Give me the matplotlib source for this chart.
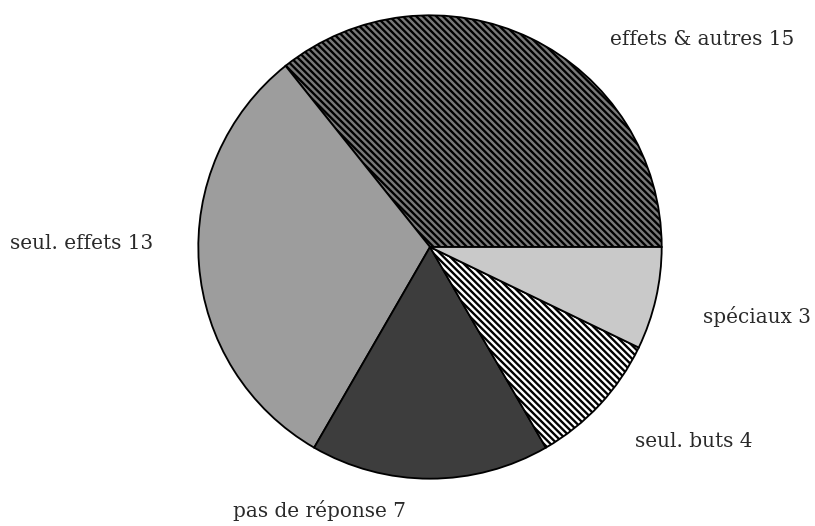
import matplotlib.pyplot as plt

categories = ["effets & autres", "seul. effets", "pas de réponse", "seul. buts", "spéciaux"]
values = [15, 13, 7, 4, 3]

# slice styles (same order as categories)
colors = ["#7a7a7a", "#9d9d9d", "#3d3d3d", "#ffffff", "#c9c9c9"]
hatches = ["\\" * 6, "", "", "\\" * 6, ""]

# label anchor (pixels, left edge / baseline)
label_px = {
    "effets & autres": (610, 45),
    "seul. effets": (10, 249),
    "pas de réponse": (233, 517),
    "seul. buts": (635, 447),
    "spéciaux": (703, 323),
}

W, H, DPI = 815, 526, 120
plt.rcParams['hatch.linewidth'] = 1.4
plt.rcParams['hatch.color'] = 'black'

fig = plt.figure(figsize=(W / DPI, H / DPI), dpi=DPI)
cx, cy, r = 430, 247, 234
ax = fig.add_axes([(cx - r) / W, (H - cy - r) / H, 2 * r / W, 2 * r / H])

wedges, _ = ax.pie(values, startangle=0, counterclock=True, colors=colors,
                   hatch=hatches, radius=1,
                   wedgeprops=dict(edgecolor='black', linewidth=1.1))
ax.set_xlim(-1.01, 1.01)
ax.set_ylim(-1.01, 1.01)
ax.axis('off')

for cat, v in zip(categories, values):
    px, py = label_px[cat]
    fig.text(px / W, 1 - py / H, f"{cat} {v}", ha='left', va='baseline',
             fontsize=12, family='DejaVu Serif', color='#2a2a2a')

fig.savefig("out.png", dpi=DPI, facecolor='white')
